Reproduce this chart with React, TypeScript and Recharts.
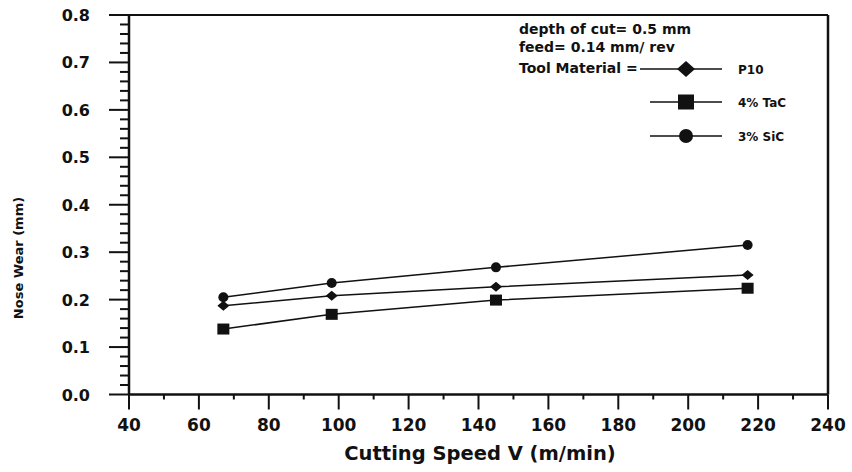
import React from 'react';
import { LineChart, Line, XAxis, YAxis, ReferenceLine, Customized } from 'recharts';

const speeds = [67, 98, 145, 217];
const p10 = [0.187, 0.208, 0.227, 0.252];
const tac = [0.138, 0.169, 0.199, 0.224];
const sic = [0.205, 0.235, 0.268, 0.315];

const xMajorTicks = [40, 60, 80, 100, 120, 140, 160, 180, 200, 220, 240];
const yMajorTicks = [0, 0.1, 0.2, 0.3, 0.4, 0.5, 0.6, 0.7, 0.8];
const yLabels = ['0.0', '0.1', '0.2', '0.3', '0.4', '0.5', '0.6', '0.7', '0.8'];

const xTicks: number[] = [];
for (let i = 0; i < xMajorTicks.length; i++) {
  xTicks.push(xMajorTicks[i]);
  if (i < xMajorTicks.length - 1) xTicks.push(xMajorTicks[i] + 10);
}
const yTicks: number[] = [];
for (let i = 0; i < yMajorTicks.length; i++) {
  for (let k = 0; k < 5; k++) {
    if (i === yMajorTicks.length - 1 && k > 0) break;
    yTicks.push(Math.round((yMajorTicks[i] + k * 0.02) * 1000) / 1000);
  }
}

const data = speeds.map((v, i) => ({ v, p10: p10[i], tac: tac[i], sic: sic[i] }));

const FONT = '"DejaVu Sans", Arial, sans-serif';

const isMajorY = (v: number) => yMajorTicks.some((m) => Math.abs(m - v) < 1e-6);

const YTick = (props: any) => {
  const { x, y, payload } = props;
  const v = payload.value as number;
  const major = isMajorY(v);
  const idx = yMajorTicks.findIndex((m) => Math.abs(m - v) < 1e-6);
  return (
    <g>
      <line x1={x - (major ? 20 : 9)} x2={x} y1={y} y2={y} stroke="#111" strokeWidth={2} />
      {major && (
        <text x={x - 39} y={y + 6} textAnchor="end" fontFamily={FONT} fontWeight="bold" fontSize={16} fill="#111">
          {yLabels[idx]}
        </text>
      )}
    </g>
  );
};

const XTick = (props: any) => {
  const { x, y, payload } = props;
  const v = payload.value as number;
  const major = v % 20 === 0;
  return (
    <g>
      <line x1={x} x2={x} y1={y} y2={y + (major ? 15 : 5)} stroke="#111" strokeWidth={2} />
      {major && (
        <text x={x} y={y + 36} textAnchor="middle" fontFamily={FONT} fontWeight="bold" fontSize={17} fill="#111">
          {v}
        </text>
      )}
    </g>
  );
};

const Diamond = ({ cx, cy, w = 6, h = 5 }: any) => (
  <polygon points={`${cx - w},${cy} ${cx},${cy - h} ${cx + w},${cy} ${cx},${cy + h}`} fill="#111" />
);
const Square = ({ cx, cy, s = 6 }: any) => <rect x={cx - s} y={cy - s + 0.5} width={2 * s} height={2 * s - 1} fill="#111" />;
const Circle = ({ cx, cy, r = 5 }: any) => <circle cx={cx} cy={cy} r={r} fill="#111" />;

const LegendBox = () => {
  const t = { fontFamily: FONT, fontWeight: 'bold' as const, fontSize: 14, fill: '#111' };
  return (
    <g>
      <text x={519} y={34} {...t}>depth of cut= 0.5 mm</text>
      <text x={519} y={52} {...t}>feed= 0.14 mm/ rev</text>
      <text x={519} y={73} {...t}>Tool Material =</text>
      <line x1={640} x2={722} y1={69} y2={69} stroke="#111" strokeWidth={1.5} />
      <Diamond cx={686} cy={69} w={9} h={8} />
      <text x={738} y={74} {...t} fontSize={12}>P10</text>
      <line x1={650} x2={722} y1={102} y2={102} stroke="#111" strokeWidth={1.5} />
      <Square cx={686} cy={102} s={8} />
      <text x={738} y={107} {...t} fontSize={12}>4% TaC</text>
      <line x1={650} x2={722} y1={136} y2={136} stroke="#111" strokeWidth={1.5} />
      <Circle cx={686} cy={136} r={7} />
      <text x={738} y={141} {...t} fontSize={12}>3% SiC</text>
    </g>
  );
};

export default function App() {
  return (
    <div style={{ position: 'absolute', left: 0, top: 0, width: 852, height: 472, background: '#fff' }}>
      <LineChart width={852} height={472} data={data} margin={{ top: 15, right: 24, left: 69, bottom: 47.5 }}>
        <XAxis
          dataKey="v"
          type="number"
          domain={[40, 240]}
          ticks={xTicks}
          interval={0}
          tickSize={0}
          tickMargin={0}
          tickLine={false}
          tick={<XTick />}
          axisLine={{ stroke: '#111', strokeWidth: 2.5 }}
          height={30}
        />
        <YAxis
          type="number"
          domain={[0, 0.8]}
          ticks={yTicks}
          interval={0}
          tickSize={0}
          tickMargin={0}
          tickLine={false}
          tick={<YTick />}
          axisLine={{ stroke: '#111', strokeWidth: 2.5 }}
          width={60}
        />
        <ReferenceLine y={0.8} stroke="#111" strokeWidth={2} />
        <ReferenceLine x={240} stroke="#111" strokeWidth={2.5} />
        <Line dataKey="sic" stroke="#111" strokeWidth={1.5} isAnimationActive={false} dot={(p: any) => <Circle key={p.index} cx={p.cx} cy={p.cy} r={5} />} />
        <Line dataKey="p10" stroke="#111" strokeWidth={1.5} isAnimationActive={false} dot={(p: any) => <Diamond key={p.index} cx={p.cx} cy={p.cy} w={6} h={5} />} />
        <Line dataKey="tac" stroke="#111" strokeWidth={1.5} isAnimationActive={false} dot={(p: any) => <Square key={p.index} cx={p.cx} cy={p.cy} s={6} />} />
        <Customized component={<LegendBox />} />
        <text x={480} y={460} textAnchor="middle" fontFamily={FONT} fontWeight="bold" fontSize={19.5} fill="#111">
          Cutting Speed V (m/min)
        </text>
        <text
          x={0}
          y={0}
          transform="translate(23,258) rotate(-90)"
          textAnchor="middle"
          fontFamily={FONT}
          fontWeight="bold"
          fontSize={13}
          fill="#111"
        >
          Nose Wear (mm)
        </text>
      </LineChart>
    </div>
  );
}
